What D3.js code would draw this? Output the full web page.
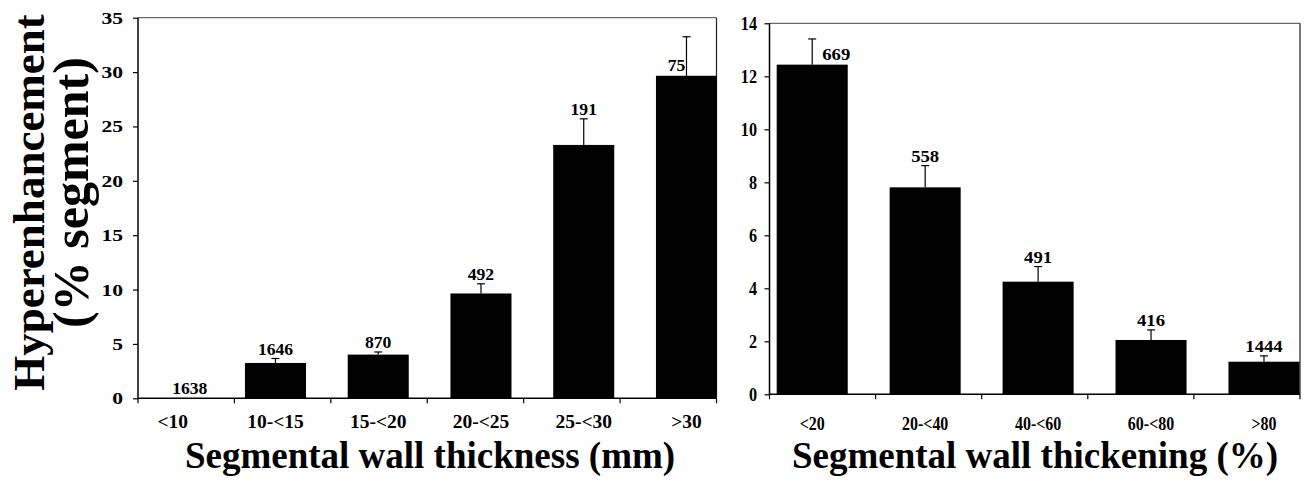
<!DOCTYPE html>
<html>
<head>
<meta charset="utf-8">
<script src="https://cdn.jsdelivr.net/npm/d3@7"></script>
<style>
  body { margin: 0; background: #fff; }
  svg { display: block; font-family: "Liberation Serif", "Times New Roman", serif; font-weight: bold; }
</style>
</head>
<body>
<svg id="chart" width="1305" height="482"></svg>
<script>
// left panel: wall thickness
const thicknessCats = ["<10", "10-<15", "15-<20", "20-<25", "25-<30", ">30"];
const thicknessMeans = [0, 3.25, 4.02, 9.64, 23.3, 29.66];
const thicknessErr = [0, 0.41, 0.24, 0.89, 2.4, 3.59];
const thicknessN = [1638, 1646, 870, 492, 191, 75];
const thicknessTicks = [0, 5, 10, 15, 20, 25, 30, 35];

// right panel: wall thickening
const thickeningCats = ["<20", "20-<40", "40-<60", "60-<80", ">80"];
const thickeningMeans = [12.44, 7.81, 4.25, 2.05, 1.23];
const thickeningErr = [0.97, 0.82, 0.57, 0.38, 0.22];
const thickeningN = [669, 558, 491, 416, 1444];
const thickeningTicks = [0, 2, 4, 6, 8, 10, 12, 14];

const svg = d3.select("#chart");

function drawPanel(p) {
  const data = p.cats.map((c, i) => ({ cat: c, mean: p.means[i], err: p.err[i], n: p.n[i] }));
  const y = d3.scaleLinear().domain([0, p.ticks[p.ticks.length - 1]]).range([p.bottom, p.top]);
  const xAxisScale = d3.scaleBand().domain(p.cats).range([p.left, p.right]);
  const xBar = d3.scaleBand().domain(p.cats).range(p.barRange).paddingInner(p.barPad);
  const bw = xBar.bandwidth();
  const g = svg.append("g");

  // frame (top + right)
  g.append("line")
    .attr("x1", p.left).attr("x2", p.right)
    .attr("y1", p.top).attr("y2", p.top)
    .attr("stroke", "#444").attr("stroke-width", 1);
  g.append("line")
    .attr("x1", p.right).attr("x2", p.right)
    .attr("y1", p.top).attr("y2", p.bottom)
    .attr("stroke", "#222").attr("stroke-width", 1.2);

  // bars
  g.selectAll("rect.bar")
    .data(data)
    .join("rect")
    .attr("class", "bar")
    .attr("x", (d) => xBar(d.cat))
    .attr("width", bw)
    .attr("y", (d) => y(d.mean))
    .attr("height", (d) => y(0) - y(d.mean))
    .attr("fill", "#000");

  // error bars
  const eb = data.filter((d) => d.err > 0);
  g.selectAll("line.err")
    .data(eb)
    .join("line")
    .attr("class", "err")
    .attr("x1", (d) => xBar(d.cat) + bw / 2)
    .attr("x2", (d) => xBar(d.cat) + bw / 2)
    .attr("y1", (d) => y(d.mean))
    .attr("y2", (d) => y(d.mean + d.err))
    .attr("stroke", "#000").attr("stroke-width", 1.2);
  g.selectAll("line.cap")
    .data(eb)
    .join("line")
    .attr("class", "cap")
    .attr("x1", (d) => xBar(d.cat) + bw / 2 - 4)
    .attr("x2", (d) => xBar(d.cat) + bw / 2 + 4)
    .attr("y1", (d) => y(d.mean + d.err))
    .attr("y2", (d) => y(d.mean + d.err))
    .attr("stroke", "#000").attr("stroke-width", 1.2);

  // n labels
  g.selectAll("text.n")
    .data(data)
    .join("text")
    .attr("class", "n")
    .attr("text-anchor", "middle")
    .attr("transform", (d) => {
      const nudge = p.nudge[d.cat] || {};
      const cx = xBar(d.cat) + bw / 2 + (nudge.dx || 0);
      const cy = nudge.bar ? y(d.mean) - 5 : y(d.mean + d.err) - 4;
      return `translate(${cx},${cy}) scale(${p.valueScale},1)`;
    })
    .style("font-size", p.valueSize + "px")
    .text((d) => d.n);

  // y axis
  const yAxis = g.append("g")
    .attr("transform", `translate(${p.left},0)`)
    .call(d3.axisLeft(y).tickValues(p.ticks).tickSize(5).tickSizeOuter(0).tickFormat(d3.format("d")));
  yAxis.attr("font-family", null).attr("font-size", null);
  yAxis.select(".domain").attr("stroke-width", 1.5).attr("d", `M0,${p.top}V${p.bottom}`);
  yAxis.selectAll(".tick line").attr("stroke-width", 1.2);
  yAxis.selectAll(".tick text")
    .attr("x", 0)
    .attr("dy", "0.34em")
    .attr("transform", `translate(${-p.yLabelGap},0) scale(${p.yLabelScale},1)`)
    .style("font-size", p.yLabelSize + "px")
    .attr("fill", "#000");

  // x axis line + tick marks at category boundaries
  g.append("line")
    .attr("x1", p.left).attr("x2", p.right)
    .attr("y1", y(0)).attr("y2", y(0))
    .attr("stroke", "#000").attr("stroke-width", 1.5);
  const bounds = p.cats.map((c) => xAxisScale(c)).concat(xAxisScale.range()[1]);
  g.selectAll("line.xtick")
    .data(bounds)
    .join("line")
    .attr("class", "xtick")
    .attr("x1", (d) => d).attr("x2", (d) => d)
    .attr("y1", y(0)).attr("y2", y(0) + 5)
    .attr("stroke", "#000").attr("stroke-width", 1.2);

  // x category labels
  const xLab = g.append("g")
    .attr("transform", `translate(0,${y(0)})`)
    .call(d3.axisBottom(xBar).tickSize(0));
  xLab.attr("font-family", null).attr("font-size", null);
  xLab.select(".domain").remove();
  xLab.selectAll(".tick text")
    .attr("y", 0)
    .attr("dy", 0)
    .attr("transform", `translate(0,${p.xLabelY - y(0)}) scale(${p.xLabelScale},1)`)
    .style("font-size", p.xLabelSize + "px")
    .attr("fill", "#000");

  // axis title
  g.append("text")
    .attr("x", p.titleX)
    .attr("y", p.titleY)
    .attr("text-anchor", "middle")
    .style("font-size", "37px")
    .text(p.title);
}

drawPanel({
  cats: thicknessCats, means: thicknessMeans, err: thicknessErr, n: thicknessN, ticks: thicknessTicks,
  left: 138, right: 716.5, top: 17.7, bottom: 398.3,
  barRange: [142.2, 717], barPad: 0.406,
  yLabelGap: 15, yLabelScale: 1.35, yLabelSize: 16,
  xLabelY: 428, xLabelScale: 1, xLabelSize: 19.5,
  valueSize: 16, valueScale: 1.1,
  nudge: { "<10": { dx: 17 }, ">30": { dx: -10, bar: true } },
  title: "Segmental wall thickness (mm)", titleX: 430, titleY: 468,
});

drawPanel({
  cats: thickeningCats, means: thickeningMeans, err: thickeningErr, n: thickeningN, ticks: thickeningTicks,
  left: 769.5, right: 1300, top: 23.3, bottom: 394.3,
  barRange: [776.7, 1299.5], barPad: 0.371,
  yLabelGap: 12.5, yLabelScale: 0.83, yLabelSize: 19.5,
  xLabelY: 430, xLabelScale: 0.82, xLabelSize: 19.5,
  valueSize: 17, valueScale: 1.1,
  nudge: { "<20": { dx: 24, bar: true } },
  title: "Segmental wall thickening (%)", titleX: 1035, titleY: 468,
});

// shared y title
svg.append("text")
  .attr("transform", "translate(43.5,202.5) rotate(-90)")
  .attr("text-anchor", "middle")
  .style("font-size", "45px")
  .text("Hyperenhancement");
svg.append("text")
  .attr("transform", "translate(88,192.5) rotate(-90)")
  .attr("text-anchor", "middle")
  .style("font-size", "50px")
  .text("(% segment)");
</script>
</body>
</html>
